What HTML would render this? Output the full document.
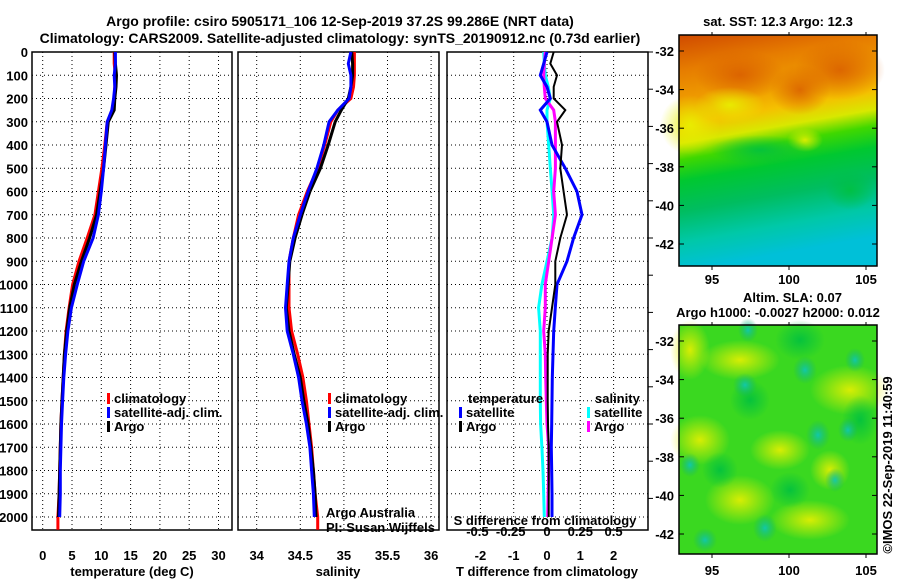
<!DOCTYPE html>
<html><head><meta charset="utf-8"><style>
body{margin:0;background:#fff;}
svg{display:block;font-family:"Liberation Sans",sans-serif;}
.b{font-weight:bold;font-size:13px;}
.t{font-weight:bold;font-size:14px;}
</style></head><body>
<svg id="c" width="900" height="580" xmlns="http://www.w3.org/2000/svg">
<defs>
<linearGradient id="sstg" x1="0" y1="0" x2="0.15" y2="1">
<stop offset="0" stop-color="#d04a00"/><stop offset="0.15" stop-color="#e67c00"/><stop offset="0.3" stop-color="#f0a000"/><stop offset="0.38" stop-color="#f5c000"/><stop offset="0.46" stop-color="#d8e800"/><stop offset="0.53" stop-color="#40d800"/><stop offset="0.62" stop-color="#00c830"/><stop offset="0.75" stop-color="#00bd60"/><stop offset="0.88" stop-color="#00c8a8"/><stop offset="1" stop-color="#00c0d8"/>
</linearGradient>
<radialGradient id="yb"><stop offset="0" stop-color="#e8f000" stop-opacity="0.9"/><stop offset="1" stop-color="#e8f000" stop-opacity="0"/></radialGradient>
<radialGradient id="tb"><stop offset="0" stop-color="#10c8b0" stop-opacity="0.95"/><stop offset="1" stop-color="#10b070" stop-opacity="0"/></radialGradient>
<radialGradient id="ob"><stop offset="0" stop-color="#d85a00" stop-opacity="0.8"/><stop offset="1" stop-color="#d85a00" stop-opacity="0"/></radialGradient>
<radialGradient id="gb"><stop offset="0" stop-color="#00c040" stop-opacity="0.9"/><stop offset="1" stop-color="#00c040" stop-opacity="0"/></radialGradient>
</defs>
<text class="t" x="340" y="26" text-anchor="middle">Argo profile: csiro 5905171_106 12-Sep-2019 37.2S 99.286E (NRT data)</text>
<text class="t" x="340" y="43" text-anchor="middle">Climatology: CARS2009. Satellite-adjusted climatology: synTS_20190912.nc (0.73d earlier)</text>
<g id="g"></g>
</svg>
<script>
// depth grid (m)
const depths=[0,50,100,150,200,250,300,400,500,600,700,800,900,1000,1100,1200,1300,1400,1500,1600,1700,1800,1900,2000];
const tArgo=[12.3,12.4,12.6,12.5,12.3,12.2,11.2,10.8,10.4,9.8,9.2,8.0,6.6,5.4,4.6,4.1,3.7,3.5,3.3,3.1,3.0,2.9,2.8,2.7];
const tClim=[12.2,12.2,12.4,12.3,12.2,11.9,11.0,10.6,10.1,9.5,8.9,7.6,6.2,5.1,4.5,4.0,3.7,3.5,3.3,3.1,3.0,2.9,2.8,2.6];
const tSat=[12.4,12.4,12.2,12.3,12.1,11.8,11.0,10.7,10.4,10.0,9.5,8.6,7.0,5.9,4.9,4.3,3.9,3.6,3.4,3.2,3.1,3.0,3.0,2.9];
const sArgo=[35.09,35.10,35.10,35.08,35.05,34.97,34.90,34.82,34.73,34.61,34.52,34.44,34.38,34.36,34.34,34.37,34.43,34.50,34.54,34.59,34.62,34.65,34.67,34.68];
const sClim=[35.12,35.12,35.12,35.11,35.08,34.93,34.85,34.78,34.70,34.58,34.48,34.42,34.37,34.37,34.37,34.40,34.47,34.53,34.57,34.60,34.63,34.65,34.67,34.70];
const sSat=[35.08,35.05,35.08,35.08,35.06,34.93,34.83,34.77,34.69,34.59,34.50,34.42,34.37,34.35,34.33,34.35,34.42,34.48,34.52,34.57,34.61,34.63,34.65,34.66];
const dTSat=[0,-0.1,-0.2,0,0.1,-0.2,0,0.15,0.55,0.9,1.05,0.8,0.6,0.3,0.25,0.2,0.18,0.16,0.15,0.14,0.13,0.14,0.15,0.15];
const dTArgo=[0.2,0.1,0.3,0.2,0.2,0.55,0.3,0.45,0.4,0.5,0.6,0.4,0.25,0.25,0.15,0.05,0.02,0.02,0.02,0.03,0.05,0.05,0.05,0.05];
const dSSat=[-0.025,-0.02,-0.013,0.01,0.025,0.0,0,0.013,0.025,0.038,0.05,0.038,0,-0.038,-0.063,-0.05,-0.05,-0.05,-0.05,-0.048,-0.038,-0.03,-0.025,-0.02];
const dSArgo=[-0.013,-0.02,-0.025,-0.02,-0.013,0.05,0.063,0.063,0.063,0.05,0.063,0.038,0.013,-0.013,-0.013,-0.025,-0.013,-0.01,-0.005,0,0.013,0.013,0.008,0.005];
const depthTicks=[0,100,200,300,400,500,600,700,800,900,1000,1100,1200,1300,1400,1500,1600,1700,1800,1900,2000];
const tTicks=[0,5,10,15,20,25,30];
const sTicks=[34,34.5,35,35.5,36];
const dtTicks=[-2,-1,0,1,2];
const dsTicks=[-0.5,-0.25,0,0.25,0.5];

const NS='http://www.w3.org/2000/svg';
const G=document.getElementById('g');
function el(t,a,p){const e=document.createElementNS(NS,t);for(const k in a)e.setAttribute(k,a[k]);(p||G).appendChild(e);return e;}
const Y0=52,Y1=530;
const y=d=>52+d*0.2325;
const xT=v=>42.7+v*5.86;
const xS=v=>256.7+(v-34)*87.2;
const xDT=v=>547+v*33.3;
const xDS=v=>547+v*133.2;

function frame(x0,x1,name){
  const r=el('rect',{x:x0,y:Y0,width:x1-x0,height:Y1-Y0,fill:'none',stroke:'#000','stroke-width':1.5});
  
  
  depthTicks.forEach(d=>{
    const l=el('line',{x1:x0,x2:x1,y1:y(d),y2:y(d),stroke:'#000','stroke-width':1,'stroke-dasharray':'1 3'});
    
    
  });
}
function vgrid(ticks,fx,labels,ly,nm){
  ticks.forEach((v,i)=>{
    const X=fx(v);
    const l=el('line',{x1:X,x2:X,y1:Y0,y2:Y1,stroke:'#000','stroke-width':1,'stroke-dasharray':'1 3'});
    
    
    const t=el('text',{x:X,y:ly,'text-anchor':'middle',class:'b'});t.textContent=labels[i];
    
    
  });
}
frame(32,232,'temperature-panel');
frame(238,439,'salinity-panel');
frame(447,648,'difference-panel');
vgrid(tTicks,xT,tTicks.map(String),560,'temperature');
vgrid(sTicks,xS,sTicks.map(String),560,'salinity');
vgrid(dtTicks,xDT,dtTicks.map(String),560,'t-diff');
dsTicks.forEach(v=>{const t=el('text',{x:xDS(v)+(v<0?-3:0),y:536,'text-anchor':'middle',class:'b'});t.textContent=String(v);

});
depthTicks.forEach(d=>{const t=el('text',{x:28,y:y(d)+5,'text-anchor':'end',class:'b'});t.textContent=d;

});
for(let yy=52;yy<=520;yy+=37.2){const l=el('line',{x1:648,x2:653,y1:yy,y2:yy,stroke:'#000'});

}

function line(xs,ds,fx,col,w,name,extra){
  const pts=xs.map((v,i)=>fx(v).toFixed(1)+','+y(ds[i]).toFixed(1));
  if(extra!==undefined)pts.push(fx(xs[xs.length-1]).toFixed(1)+','+y(extra).toFixed(1));
  const p=el('polyline',{points:pts.join(' '),fill:'none',stroke:col,'stroke-width':w});
  
  
}
line(tClim,depths,xT,'#f00',3,'temperature-climatology-line',2055);
line(tArgo,depths,xT,'#000',3,'temperature-argo-line');
line(tSat,depths,xT,'#00f',3,'temperature-satellite-line');
line(sClim,depths,xS,'#f00',3,'salinity-climatology-line',2055);
line(sArgo,depths,xS,'#000',3,'salinity-argo-line');
line(sSat,depths,xS,'#00f',3,'salinity-satellite-line');
line(dSSat,depths,xDS,'#0ff',3,'s-diff-satellite-line');
line(dSArgo,depths,xDS,'#f0f',3,'s-diff-argo-line');
line(dTSat,depths,xDT,'#00f',3,'t-diff-satellite-line');
line(dTArgo,depths,xDT,'#000',2,'t-diff-argo-line');

function leg(x,yy,col,txt,name){
  const r=el('rect',{x:x,y:yy-10,width:3,height:11,fill:col});
  
  
  const t=el('text',{x:x+7,y:yy,class:'b'});t.textContent=txt;
  
  
}
leg(107,403,'#f00','climatology','legend-climatology');
leg(107,417,'#00f','satellite-adj. clim.','legend-satellite');
leg(107,431,'#000','Argo','legend-argo');
leg(328,403,'#f00','climatology','legend2-climatology');
leg(328,417,'#00f','satellite-adj. clim.','legend2-satellite');
leg(328,431,'#000','Argo','legend2-argo');
leg(459,417,'#00f','satellite','legend-t-satellite');
leg(459,431,'#000','Argo','legend-t-argo');
leg(587,417,'#0ff','satellite','legend-s-satellite');
leg(587,431,'#f0f','Argo','legend-s-argo');
function txt(x,yy,s,cls,name,anchor,extra){const t=el('text',Object.assign({x:x,y:yy,class:cls||'b','text-anchor':anchor||'start'},extra||{}));t.textContent=s;

return t;}
txt(468,403,'temperature','b','legend-temperature-heading');
txt(595,403,'salinity','b','legend-salinity-heading');
txt(326,517,'Argo Australia','', 'credit-line-1',null,{'font-size':'12'});
txt(326,532,'PI: Susan Wijffels','', 'credit-line-2',null,{'font-size':'12'});
txt(545,525,'S difference from climatology','b','s-diff-axis-title','middle');
txt(132,576,'temperature (deg C)','b','temperature-axis-title','middle');
txt(338,576,'salinity','b','salinity-axis-title','middle');
txt(547,576,'T difference from climatology','b','t-diff-axis-title','middle');

// maps
const latTicks=[-32,-34,-36,-38,-40,-42];
const lonTicks=[95,100,105];
function map(y0,y1,name,fill){
  const g=el('g',{});
  
  
  el('rect',{x:679,y:y0,width:198,height:y1-y0,fill:fill},g);
  return g;
}
const m1=map(35,266,'sst-map','url(#sstg)');
[[740,75,45,25,'ob'],[840,70,45,30,'ob'],[800,90,30,25,'ob'],[690,125,30,30,'yb'],[730,105,35,18,'yb'],[805,140,18,12,'yb'],[760,150,50,15,'gb'],[850,190,25,20,'gb']].forEach(b=>el('ellipse',{cx:b[0],cy:b[1],rx:b[2],ry:b[3],fill:'url(#'+b[4]+')'},m1));
el('rect',{x:679,y:35,width:198,height:231,fill:'none',stroke:'#000','stroke-width':1.5},m1);
const m2=map(325,554,'sla-map','#3ad820');
[[690,350,20,30,'yb'],[740,360,40,20,'yb'],[850,390,40,25,'yb'],[700,440,30,25,'yb'],[740,500,35,25,'yb'],[810,520,40,20,'yb'],[780,450,30,20,'yb'],[830,470,20,20,'yb'],
 [750,400,20,20,'gb'],[800,340,25,20,'gb'],[860,420,18,25,'gb'],[720,470,18,18,'gb'],[790,490,20,18,'gb'],
 [748,330,10,12,'tb'],[805,370,12,14,'tb'],[818,435,12,15,'tb'],[745,385,12,12,'tb'],[855,360,10,12,'tb'],[765,528,12,14,'tb'],[705,540,12,12,'tb'],[690,465,10,12,'tb'],[835,480,10,12,'tb'],[848,430,10,12,'tb']].forEach(b=>el('ellipse',{cx:b[0],cy:b[1],rx:b[2],ry:b[3],fill:'url(#'+b[4]+')'},m2));
el('rect',{x:679,y:325,width:198,height:229,fill:'none',stroke:'#000','stroke-width':1.5},m2);
[[51,'sst'],[341,'sla']].forEach(([base,nm])=>{
  latTicks.forEach((v,i)=>{const yy=base+i*38.6;txt(674,yy+5,String(v),'b',nm+'-lat-label','end');
  el('line',{x1:679,x2:684,y1:yy,y2:yy,stroke:'#000'});el('line',{x1:872,x2:877,y1:yy,y2:yy,stroke:'#000'});});
});
[[266,35,284,'sst'],[554,325,575,'sla']].forEach(([yb,yt,ly,nm])=>lonTicks.forEach(v=>{const X=712+(v-95)*15.4;txt(X,ly,String(v),'b',nm+'-lon-label','middle');
el('line',{x1:X,x2:X,y1:yb,y2:yb+4,stroke:'#000'});el('line',{x1:X,x2:X,y1:yt-3,y2:yt,stroke:'#000'});}));
txt(778,26,'sat. SST: 12.3 Argo: 12.3','b','sst-map-title','middle');
txt(743,302,'Altim. SLA: 0.07','b','sla-map-title','start');
txt(778,317,'Argo h1000: -0.0027 h2000: 0.012','b','sla-map-subtitle','middle');
txt(892,465,'©IMOS 22-Sep-2019 11:40:59','', 'timestamp','middle',{'font-size':'13',transform:'rotate(-90 892 465)'});
</script>
</body></html>
